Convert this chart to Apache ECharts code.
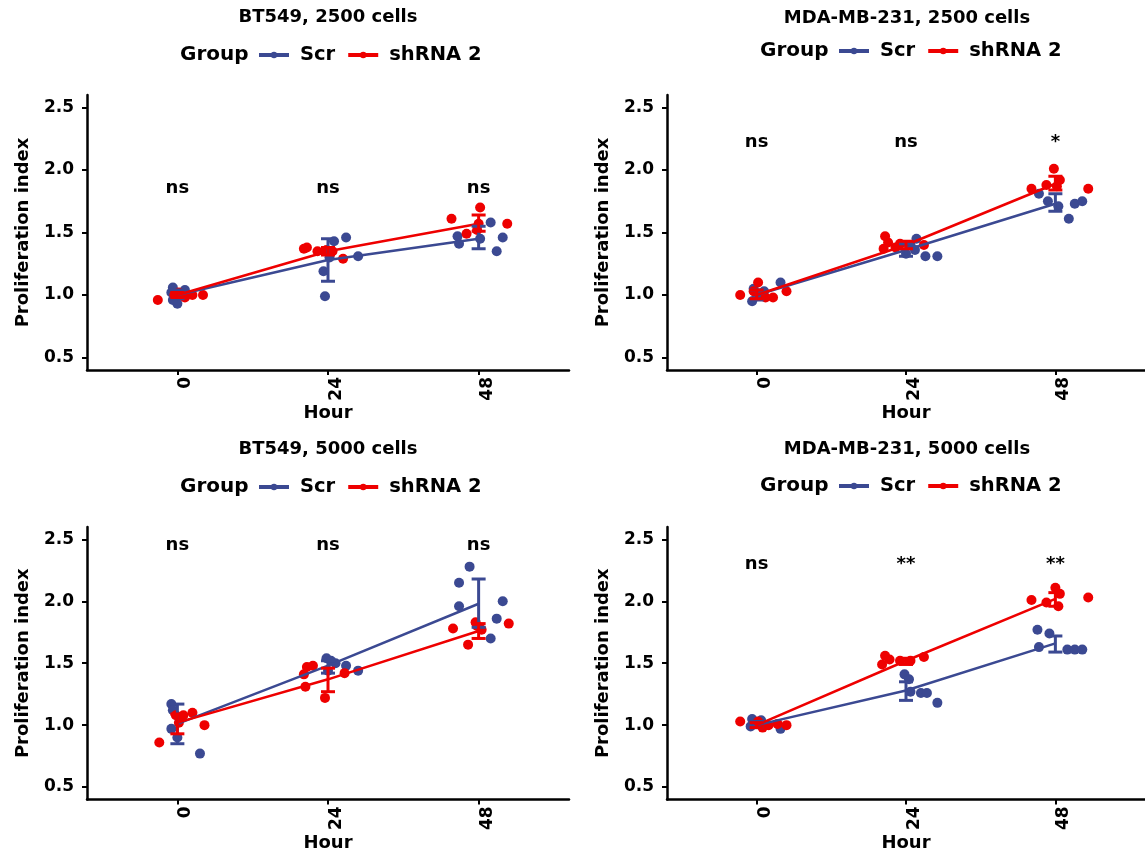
<!DOCTYPE html>
<html>
<head>
<meta charset="utf-8">
<script src="https://cdn.jsdelivr.net/npm/echarts@6/dist/echarts.min.js"></script>
<style>
  html, body { margin: 0; padding: 0; background: #fff; }
  #main { width: 1145px; height: 853px; }
</style>
</head>
<body>
<div id="main"></div>
<script>
var hours = ['0', '24', '48'];
var titles = ['BT549, 2500 cells', 'MDA-MB-231, 2500 cells', 'BT549, 5000 cells', 'MDA-MB-231, 5000 cells'];
var groups = ['Scr', 'shRNA 2'];

// mean per hour, one row per panel
var scrMean = [[1.00, 1.28, 1.45], [1.00, 1.36, 1.73], [1.01, 1.48, 1.98], [1.00, 1.28, 1.66]];
var shMean = [[1.00, 1.35, 1.57], [1.00, 1.40, 1.89], [1.02, 1.37, 1.76], [1.00, 1.52, 2.02]];

// error bar [low, high] per hour
var scrErr = [
    [[0.97, 1.04], [1.11, 1.45], [1.37, 1.55]],
    [[0.96, 1.04], [1.31, 1.41], [1.67, 1.81]],
    [[0.85, 1.17], [1.42, 1.52], [1.79, 2.18]],
    [[0.98, 1.03], [1.20, 1.35], [1.59, 1.72]]
];
var shErr = [
    [[0.98, 1.02], [1.32, 1.38], [1.51, 1.64]],
    [[0.97, 1.04], [1.37, 1.43], [1.84, 1.95]],
    [[0.93, 1.09], [1.27, 1.46], [1.70, 1.82]],
    [[0.98, 1.02], [1.49, 1.54], [1.96, 2.07]]
];

// replicate points: [jitter offset, value] per hour
var scrPts = [
    [
        [[-0.03, 1.06], [-0.04, 1.02], [0.00, 0.93], [0.03, 1.01], [0.05, 1.04], [-0.03, 0.96]],
        [[-0.02, 0.99], [-0.03, 1.19], [0.04, 1.43], [0.12, 1.46], [0.20, 1.31], [0.01, 1.30]],
        [[-0.14, 1.47], [-0.13, 1.41], [0.01, 1.45], [0.08, 1.58], [0.12, 1.35], [0.16, 1.46]]
    ],
    [
        [[-0.03, 0.95], [-0.02, 1.05], [0.16, 1.10], [0.02, 1.01], [0.00, 0.99], [0.05, 1.03]],
        [[0.07, 1.45], [0.13, 1.31], [0.21, 1.31], [0.00, 1.33], [0.03, 1.40], [0.06, 1.36]],
        [[-0.11, 1.81], [-0.05, 1.75], [0.02, 1.71], [0.09, 1.61], [0.13, 1.73], [0.18, 1.75]]
    ],
    [
        [[-0.04, 1.17], [-0.03, 1.12], [-0.04, 0.97], [0.00, 0.90], [0.15, 0.77], [0.02, 1.06]],
        [[-0.01, 1.54], [0.02, 1.52], [0.05, 1.50], [0.12, 1.48], [0.20, 1.44], [0.00, 1.44]],
        [[-0.13, 2.15], [-0.06, 2.28], [-0.13, 1.96], [0.16, 2.00], [0.12, 1.86], [0.08, 1.70]]
    ],
    [
        [[-0.03, 1.05], [-0.04, 0.99], [0.03, 1.04], [0.16, 0.97], [0.00, 1.02], [0.06, 1.00]],
        [[-0.01, 1.41], [0.02, 1.37], [0.10, 1.26], [0.14, 1.26], [0.21, 1.18], [0.03, 1.27]],
        [[-0.12, 1.77], [-0.04, 1.74], [-0.11, 1.63], [0.08, 1.61], [0.13, 1.61], [0.18, 1.61]]
    ]
];
var shPts = [
    [
        [[-0.13, 0.96], [-0.02, 1.00], [0.01, 1.02], [0.10, 1.00], [0.17, 1.00], [0.05, 0.98]],
        [[-0.16, 1.37], [-0.14, 1.38], [-0.07, 1.35], [-0.01, 1.36], [0.10, 1.29], [0.03, 1.35]],
        [[-0.18, 1.61], [-0.08, 1.49], [0.01, 1.70], [0.00, 1.57], [0.19, 1.57], [-0.01, 1.52]]
    ],
    [
        [[-0.11, 1.00], [0.01, 1.10], [0.20, 1.03], [0.11, 0.98], [0.06, 0.98], [-0.02, 1.03]],
        [[-0.14, 1.47], [-0.12, 1.42], [-0.15, 1.37], [-0.04, 1.41], [0.12, 1.40], [-0.07, 1.38]],
        [[-0.16, 1.85], [-0.06, 1.88], [-0.01, 2.01], [0.03, 1.92], [0.22, 1.85], [0.01, 1.87]]
    ],
    [
        [[-0.12, 0.86], [-0.01, 1.08], [0.04, 1.08], [0.10, 1.10], [0.18, 1.00], [0.01, 1.02]],
        [[-0.16, 1.41], [-0.14, 1.47], [-0.10, 1.48], [-0.15, 1.31], [-0.02, 1.22], [0.11, 1.42]],
        [[-0.17, 1.78], [-0.07, 1.65], [-0.02, 1.83], [0.02, 1.77], [0.20, 1.82], [-0.01, 1.80]]
    ],
    [
        [[-0.11, 1.03], [0.01, 1.03], [0.08, 1.00], [0.14, 1.01], [0.20, 1.00], [0.04, 0.98]],
        [[-0.14, 1.56], [-0.11, 1.53], [-0.16, 1.49], [-0.04, 1.52], [0.03, 1.52], [0.12, 1.55]],
        [[-0.16, 2.01], [-0.06, 1.99], [0.00, 2.11], [0.02, 1.96], [0.22, 2.03], [0.03, 2.06]]
    ]
];

var sigText = [['ns', 'ns', 'ns'], ['ns', 'ns', '*'], ['ns', 'ns', 'ns'], ['ns', '**', '**']];
var sigY = [1.85, 2.22, 2.45, 2.30];
var yTicks = [0.5, 1.0, 1.5, 2.0, 2.5];

var BLUE = '#3B4992', RED = '#EE0000';
var FONT = 'DejaVu Sans';

var myChart = echarts.init(document.getElementById('main'), null, { renderer: 'canvas' });

var grids = [
    { left: 87, top: 95, width: 482, height: 275 },
    { left: 667, top: 95, width: 480, height: 275 },
    { left: 87, top: 527, width: 482, height: 275 },
    { left: 667, top: 527, width: 480, height: 275 }
];
var titlePos = [[328, 17], [907, 18], [328, 449], [907, 449]];
var legendPos = [[180, 257, 55], [760, 837, 51], [180, 257, 487], [760, 837, 486]];

function jitter(pts) {
    var out = [];
    pts.forEach(function (hourPts, i) {
        hourPts.forEach(function (p) {
            out.push([i + 1 + p[0], p[1]]);
        });
    });
    return out;
}

function errData(err) {
    return err.map(function (e, i) { return [i + 1, e[0], e[1]]; });
}

function errRender(color) {
    return function (params, api) {
        var lo = api.coord([api.value(0), api.value(1)]);
        var hi = api.coord([api.value(0), api.value(2)]);
        var w = 7;
        var style = { stroke: color, lineWidth: 3 };
        return {
            type: 'group',
            children: [
                { type: 'line', shape: { x1: lo[0], y1: lo[1], x2: hi[0], y2: hi[1] }, style: style },
                { type: 'line', shape: { x1: lo[0] - w, y1: lo[1], x2: lo[0] + w, y2: lo[1] }, style: style },
                { type: 'line', shape: { x1: hi[0] - w, y1: hi[1], x2: hi[0] + w, y2: hi[1] }, style: style }
            ]
        };
    };
}

var xAxes = [], yAxes = [], series = [], legends = [], graphics = [];

grids.forEach(function (g, p) {
    xAxes.push({
        gridIndex: p,
        type: 'value',
        min: 0.4,
        max: 3.6,
        name: 'Hour',
        nameLocation: 'middle',
        nameGap: 32,
        nameTextStyle: { fontFamily: FONT, fontWeight: 'bold', fontSize: 18, color: '#000' },
        axisLine: { show: true, onZero: false, lineStyle: { color: '#000', width: 2.5 } },
        axisTick: { show: true, length: 5, customValues: [1, 2, 3], lineStyle: { color: '#000', width: 2 } },
        axisLabel: {
            customValues: [1, 2, 3],
            rotate: 90,
            margin: 7,
            verticalAlign: 'top',
            fontFamily: FONT, fontWeight: 'bold', fontSize: 17, color: '#000',
            formatter: function (v) { return hours[Math.round(v) - 1]; }
        },
        splitLine: { show: false }
    });
    yAxes.push({
        gridIndex: p,
        type: 'value',
        min: 0.4,
        max: 2.6,
        name: 'Proliferation index',
        nameLocation: 'middle',
        nameGap: 55,
        nameTextStyle: { fontFamily: FONT, fontWeight: 'bold', fontSize: 18, color: '#000' },
        axisLine: { show: true, onZero: false, lineStyle: { color: '#000', width: 2.5 } },
        axisTick: { show: true, length: 5, customValues: yTicks, lineStyle: { color: '#000', width: 2 } },
        axisLabel: {
            customValues: yTicks,
            margin: 13,
            fontFamily: FONT, fontWeight: 'bold', fontSize: 17, color: '#000',
            formatter: function (v) { return v.toFixed(1); }
        },
        splitLine: { show: false }
    });

    var ax = { xAxisIndex: p, yAxisIndex: p };
    series.push(Object.assign({
        name: 'Scr points', type: 'scatter', symbolSize: 10,
        itemStyle: { color: BLUE, opacity: 1 }, data: jitter(scrPts[p]), z: 2
    }, ax));
    series.push(Object.assign({
        name: 'shRNA 2 points', type: 'scatter', symbolSize: 10,
        itemStyle: { color: RED, opacity: 1 }, data: jitter(shPts[p]), z: 2
    }, ax));
    series.push(Object.assign({
        name: 'Scr', type: 'line', symbol: 'circle', symbolSize: 8, showSymbol: false,
        itemStyle: { color: BLUE }, lineStyle: { color: BLUE, width: 2.5 },
        data: scrMean[p].map(function (v, i) { return [i + 1, v]; }), z: 3
    }, ax));
    series.push(Object.assign({
        name: 'shRNA 2', type: 'line', symbol: 'circle', symbolSize: 8, showSymbol: false,
        itemStyle: { color: RED }, lineStyle: { color: RED, width: 2.5 },
        data: shMean[p].map(function (v, i) { return [i + 1, v]; }), z: 3
    }, ax));
    series.push(Object.assign({
        name: 'Scr err', type: 'custom', renderItem: errRender(BLUE),
        encode: { x: 0, y: [1, 2] }, data: errData(scrErr[p]), z: 4
    }, ax));
    series.push(Object.assign({
        name: 'shRNA 2 err', type: 'custom', renderItem: errRender(RED),
        encode: { x: 0, y: [1, 2] }, data: errData(shErr[p]), z: 4
    }, ax));
    series.push(Object.assign({
        name: 'sig', type: 'scatter', symbolSize: 1,
        itemStyle: { color: 'rgba(0,0,0,0)', opacity: 1 },
        label: {
            show: true, position: 'inside',
            fontFamily: FONT, fontWeight: 'bold', fontSize: 18, color: '#000', opacity: 1,
            formatter: function (d) { return d.name; }
        },
        data: sigText[p].map(function (t, i) { return { name: t, value: [i + 1, sigY[p]] }; }),
        z: 5
    }, ax));

    legends.push({
        left: legendPos[p][1],
        top: legendPos[p][2] - 10,
        orient: 'horizontal',
        padding: 0,
        itemGap: 11,
        itemWidth: 30,
        itemHeight: 8,
        selectedMode: false,
        lineStyle: { width: 4 },
        textStyle: {
            fontFamily: FONT, fontWeight: 'bold', fontSize: 19.5, color: '#000',
            lineHeight: 20, padding: [0, 0, 0, 6]
        },
        data: groups
    });

    graphics.push({
        type: 'text', x: titlePos[p][0], y: titlePos[p][1],
        style: {
            text: titles[p], textAlign: 'center', textVerticalAlign: 'middle',
            font: 'bold 18px "DejaVu Sans"', fill: '#000'
        }
    });
    graphics.push({
        type: 'text', x: legendPos[p][0], y: legendPos[p][2],
        style: {
            text: 'Group', textAlign: 'left', textVerticalAlign: 'middle',
            font: 'bold 20px "DejaVu Sans"', fill: '#000'
        }
    });
});

var option = {
    animation: false,
    backgroundColor: '#fff',
    grid: grids,
    xAxis: xAxes,
    yAxis: yAxes,
    legend: legends,
    graphic: graphics,
    series: series
};

myChart.setOption(option);
</script>
</body>
</html>
